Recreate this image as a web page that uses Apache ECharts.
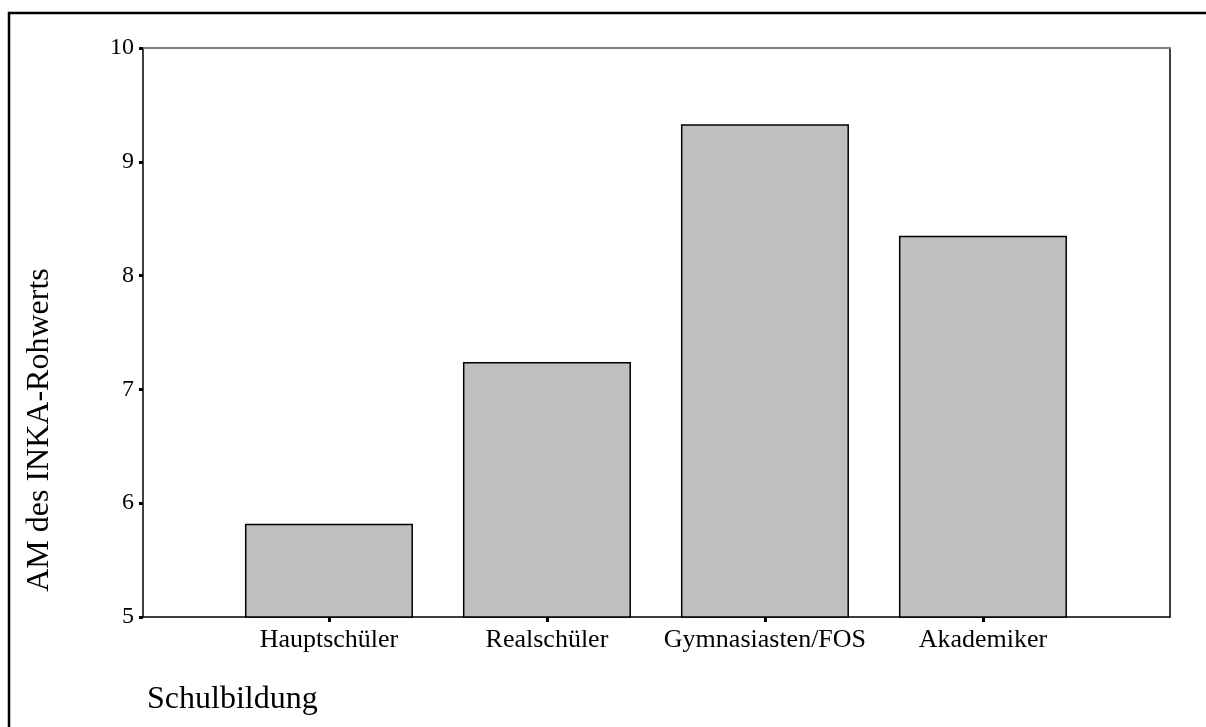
<!DOCTYPE html>
<html>
<head>
<meta charset="utf-8">
<script src="https://cdn.jsdelivr.net/npm/echarts@6/dist/echarts.min.js"></script>
<style>
  html, body { margin: 0; padding: 0; background: #fff; }
  #chart { width: 1206px; height: 727px; }
</style>
</head>
<body>
<div id="chart"></div>
<script>
// Daten
var categories = ['Hauptschüler', 'Realschüler', 'Gymnasiasten/FOS', 'Akademiker'];
var values = [5.82, 7.24, 9.33, 8.35];
var yTicks = [5, 6, 7, 8, 9, 10];
var xName = 'Schulbildung';
var yName = 'AM des INKA-Rohwerts';

var font = '"Liberation Serif", "Times New Roman", serif';
var positions = categories.map(function (c, i) { return i; });

var chart = echarts.init(document.getElementById('chart'));
chart.setOption({
  animation: false,
  backgroundColor: '#fff',
  grid: { left: 143, right: 36, top: 48, bottom: 110 },
  xAxis: [{
    type: 'value',
    min: -0.853,
    max: 3.858,
    splitLine: { show: false },
    axisLine: { show: true, onZero: false, lineStyle: { color: '#000', width: 1.5 } },
    axisTick: {
      show: true, customValues: positions, length: 5,
      lineStyle: { color: '#000', width: 3 }
    },
    axisLabel: {
      customValues: positions, margin: 10,
      color: '#000', fontFamily: font, fontSize: 26,
      formatter: function (v) { return categories[Math.round(v)]; }
    }
  }, {
    type: 'value', position: 'top',
    min: -0.853, max: 3.858,
    splitLine: { show: false }, axisTick: { show: false }, axisLabel: { show: false },
    axisLine: { show: true, onZero: false, lineStyle: { color: '#808080', width: 2 } }
  }],
  yAxis: [{
    type: 'value',
    min: 5,
    max: 10,
    interval: 1,
    splitLine: { show: false },
    axisLine: { show: true, onZero: false, lineStyle: { color: '#000', width: 1.5 } },
    axisTick: { show: true, length: 4, lineStyle: { color: '#000', width: 3 } },
    axisLabel: {
      margin: 9, color: '#000', fontFamily: font, fontSize: 24,
      customValues: yTicks
    }
  }, {
    type: 'value', position: 'right',
    min: 5, max: 10,
    splitLine: { show: false }, axisTick: { show: false }, axisLabel: { show: false },
    axisLine: { show: true, onZero: false, lineStyle: { color: '#000', width: 1.5 } }
  }],
  graphic: [
    {
      type: 'rect', silent: true,
      shape: { x: 9, y: 13, width: 1220, height: 740 },
      style: { fill: null, stroke: '#000', lineWidth: 2.5 }
    },
    {
      type: 'text', x: 40, y: 430, rotation: Math.PI / 2,
      style: {
        text: yName, fill: '#000', font: '32px ' + font,
        align: 'center', verticalAlign: 'middle'
      }
    },
    {
      type: 'text', x: 147, y: 700,
      style: {
        text: xName, fill: '#000', font: '32px ' + font,
        align: 'left', verticalAlign: 'middle'
      }
    }
  ],
  series: [{
    type: 'bar',
    barWidth: 168,
    data: values.map(function (v, i) { return [positions[i], v]; }),
    itemStyle: { color: '#c0c0c0', borderColor: '#000', borderWidth: 1.5 }
  }]
});
</script>
</body>
</html>
